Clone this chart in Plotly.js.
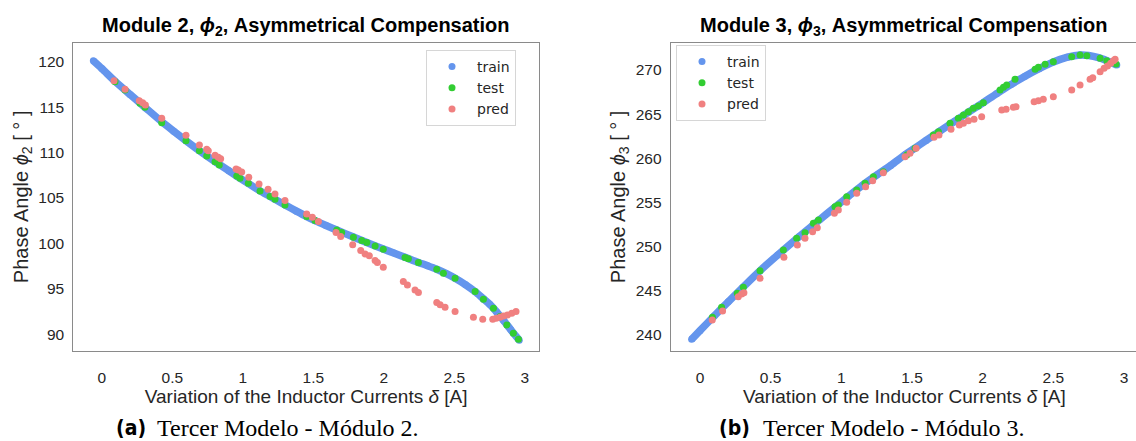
<!DOCTYPE html>
<html><head><meta charset="utf-8">
<script src="https://cdn.plot.ly/plotly-3.0.1.min.js"></script>
<style>html,body{margin:0;padding:0;overflow:hidden;background:#fff}</style>
</head><body><div id="chart" style="width:1140px;height:441px"></div>
<script>
// ---- Module 2 (left) ----
const m2TrainX = [-0.06, 0.0, 0.094, 0.2, 0.306, 0.425, 0.51, 0.597, 0.692, 0.803, 0.9, 0.957, 1.039, 1.122, 1.228, 1.299, 1.38, 1.453, 1.512, 1.59, 1.666, 1.784, 1.879, 1.996, 2.07, 2.15, 2.245, 2.31, 2.375, 2.44, 2.505, 2.58, 2.647, 2.706, 2.75, 2.8, 2.85, 2.9, 2.96];
const m2TrainY = [120.1, 119.25, 117.85, 116.4, 114.98, 113.4, 112.35, 111.31, 110.21, 109.0, 108.0, 107.4, 106.6, 105.78, 104.85, 104.24, 103.55, 102.95, 102.5, 101.97, 101.48, 100.7, 100.1, 99.38, 98.95, 98.48, 97.91, 97.55, 97.16, 96.7, 96.17, 95.45, 94.7, 93.9, 93.3, 92.45, 91.5, 90.5, 89.35];
const m2TestX = [0.094, 0.165, 0.271, 0.306, 0.425, 0.597, 0.692, 0.744, 0.803, 0.833, 0.957, 0.98, 1.039, 1.122, 1.193, 1.228, 1.299, 1.453, 1.512, 1.666, 1.701, 1.784, 1.843, 1.879, 1.938, 1.996, 2.15, 2.174, 2.245, 2.375, 2.422, 2.505, 2.647, 2.706, 2.777, 2.824, 2.872, 2.918, 2.954];
const m2TestY = [117.8, 116.89, 115.42, 114.98, 113.29, 111.31, 110.21, 109.63, 109.0, 108.64, 107.43, 107.17, 106.62, 105.78, 105.15, 104.86, 104.24, 102.95, 102.51, 101.48, 101.19, 100.68, 100.31, 100.09, 99.72, 99.36, 98.45, 98.3, 97.89, 97.16, 96.72, 96.17, 94.7, 93.86, 92.87, 91.95, 91.03, 90.12, 89.46];
const m2PredX = [0.087, 0.165, 0.266, 0.29, 0.309, 0.425, 0.597, 0.692, 0.744, 0.755, 0.803, 0.826, 0.843, 0.952, 0.968, 0.992, 1.042, 1.115, 1.179, 1.228, 1.299, 1.453, 1.493, 1.536, 1.661, 1.694, 1.779, 1.836, 1.867, 1.897, 1.938, 1.954, 1.996, 2.138, 2.167, 2.221, 2.245, 2.375, 2.399, 2.434, 2.505, 2.635, 2.701, 2.772, 2.796, 2.824, 2.848, 2.876, 2.907, 2.937];
const m2PredY = [117.91, 116.96, 115.71, 115.49, 115.24, 113.77, 111.9, 110.84, 110.36, 110.21, 109.7, 109.48, 109.33, 108.2, 108.09, 107.87, 107.28, 106.55, 105.96, 105.45, 104.71, 103.25, 102.88, 102.4, 101.19, 100.75, 99.84, 99.21, 98.84, 98.63, 98.11, 97.89, 97.38, 95.8, 95.43, 94.88, 94.59, 93.49, 93.24, 92.98, 92.5, 91.88, 91.66, 91.66, 91.77, 91.88, 92.02, 92.13, 92.32, 92.5];

// ---- Module 3 (right) ----
const m3TrainX = [-0.059, 0.0, 0.1, 0.2, 0.3, 0.425, 0.55, 0.7, 0.85, 0.944, 1.05, 1.15, 1.25, 1.35, 1.45, 1.51, 1.6, 1.7, 1.8, 1.9, 2.005, 2.1, 2.2, 2.3, 2.4, 2.5, 2.6, 2.689, 2.75, 2.82, 2.88, 2.949];
const m3TrainY = [239.51, 240.49, 242.14, 243.76, 245.34, 247.28, 249.06, 251.12, 253.1, 254.32, 255.7, 256.96, 258.1, 259.2, 260.4, 261.05, 262.03, 263.11, 264.17, 265.22, 266.31, 267.33, 268.35, 269.3, 270.15, 270.9, 271.45, 271.7, 271.65, 271.4, 271.05, 270.57];
const m3TestX = [0.088, 0.153, 0.264, 0.307, 0.425, 0.59, 0.684, 0.743, 0.802, 0.838, 0.955, 0.979, 1.038, 1.109, 1.168, 1.227, 1.297, 1.463, 1.522, 1.651, 1.687, 1.769, 1.828, 1.864, 1.899, 1.934, 1.97, 2.005, 2.123, 2.147, 2.17, 2.229, 2.371, 2.394, 2.442, 2.5, 2.63, 2.689, 2.737, 2.831, 2.878, 2.944];
const m3TestY = [242.0, 243.13, 244.72, 245.4, 247.28, 249.62, 250.94, 251.58, 252.64, 253.02, 254.53, 254.72, 255.66, 256.41, 257.17, 257.92, 258.49, 260.38, 261.13, 262.64, 263.02, 263.97, 264.53, 264.91, 265.28, 265.66, 265.92, 266.3, 267.74, 268.04, 268.3, 268.95, 270.08, 270.31, 270.65, 270.94, 271.51, 271.7, 271.62, 271.32, 271.05, 270.68];
const m3PredX = [0.087, 0.16, 0.271, 0.295, 0.311, 0.425, 0.594, 0.689, 0.743, 0.797, 0.83, 0.951, 0.979, 1.038, 1.109, 1.172, 1.222, 1.297, 1.451, 1.486, 1.529, 1.656, 1.691, 1.776, 1.835, 1.864, 1.899, 1.939, 1.993, 2.135, 2.166, 2.217, 2.236, 2.364, 2.394, 2.429, 2.5, 2.63, 2.689, 2.76, 2.779, 2.831, 2.859, 2.883, 2.906, 2.925, 2.937];
const m3PredY = [241.7, 242.72, 244.34, 244.64, 244.79, 246.42, 248.79, 250.19, 250.94, 251.69, 252.15, 253.78, 254.15, 255.02, 256.04, 256.79, 257.47, 258.37, 260.19, 260.57, 261.13, 262.38, 262.64, 263.29, 263.77, 263.97, 264.26, 264.42, 264.71, 265.47, 265.55, 265.78, 265.85, 266.41, 266.52, 266.68, 266.98, 267.74, 268.3, 268.95, 269.13, 269.81, 270.19, 270.45, 270.76, 271.05, 271.21];

const seriesNames = ['train', 'test', 'pred'];
const seriesColors = ['#6495ED', '#32CD32', '#F08080'];
const xTicks = [0, 0.5, 1, 1.5, 2, 2.5, 3];
const xTickText = ['0', '0.5', '1', '1.5', '2', '2.5', '3'];

const W = 1140, H = 441;
const SANS = 'Liberation Sans, Arial, Helvetica, sans-serif';
const MS = 7;

function traces(trX, trY, teX, teY, prX, prY, xa, ya, lg) {
  return [
    {x: trX, y: trY, xaxis: xa, yaxis: ya, type: 'scatter', mode: 'lines', showlegend: false, hoverinfo: 'skip',
     line: {color: seriesColors[0], width: 7.5, shape: 'spline', smoothing: 0.8}},
    {x: trX, y: trY, xaxis: xa, yaxis: ya, type: 'scatter', mode: 'markers', name: seriesNames[0], legend: lg,
     marker: {color: seriesColors[0], size: MS}},
    {x: teX, y: teY, xaxis: xa, yaxis: ya, type: 'scatter', mode: 'markers', name: seriesNames[1], legend: lg,
     marker: {color: seriesColors[1], size: MS}},
    {x: prX, y: prY, xaxis: xa, yaxis: ya, type: 'scatter', mode: 'markers', name: seriesNames[2], legend: lg,
     marker: {color: seriesColors[2], size: MS}}
  ];
}

const data = [].concat(
  traces(m2TrainX, m2TrainY, m2TestX, m2TestY, m2PredX, m2PredY, 'x', 'y', 'legend'),
  traces(m3TrainX, m3TrainY, m3TestX, m3TestY, m3PredX, m3PredY, 'x2', 'y2', 'legend2')
);

const yDom = [(H - 351) / H, (H - 42.7) / H];
function xAxis(dom, rng, anchor) {
  return {domain: dom, range: rng, anchor: anchor, tickmode: 'array', tickvals: xTicks, ticktext: xTickText,
    showgrid: false, zeroline: false, showline: true, mirror: true, linecolor: '#8a8a8a', linewidth: 1,
    ticks: 'outside', ticklen: 12, tickcolor: 'rgba(0,0,0,0)',
    tickfont: {family: SANS, size: 15.5, color: '#262626'},
    title: {text: 'Variation of the Inductor Currents <i>δ</i> [A]', font: {family: SANS, size: 19, color: '#262626'}, standoff: 0}};
}
function yAxis(rng, anchor, sub) {
  return {domain: yDom, range: rng, anchor: anchor, dtick: 5, tick0: 0,
    showgrid: false, zeroline: false, showline: true, mirror: true, linecolor: '#8a8a8a', linewidth: 1,
    ticks: 'outside', ticklen: 5, tickcolor: 'rgba(0,0,0,0)',
    tickfont: {family: SANS, size: 15.5, color: '#262626'},
    title: {text: 'Phase Angle <i>ϕ</i><sub>' + sub + '</sub> [ ° ]', font: {family: SANS, size: 20, color: '#262626'}, standoff: 4}};
}
function legendCfg(xpx, ypx) {
  return {x: xpx / W, y: 1 - ypx / H, xanchor: 'left', yanchor: 'top', bgcolor: '#ffffff',
    bordercolor: '#d6d6d6', borderwidth: 1, itemwidth: 40, tracegroupgap: 0,
    entrywidth: 62, entrywidthmode: 'pixels',
    font: {family: 'DejaVu Sans, sans-serif', size: 14, color: '#262626'}};
}

const annFont = {family: SANS, size: 20, color: '#000'};
const capSans = {family: 'Liberation Sans Narrow, DejaVu Sans Condensed, Liberation Sans, sans-serif', size: 21, color: '#000'};
const capSerif = {family: 'Liberation Serif, Times New Roman, serif', size: 24, color: '#000'};
const capY = 1 - 428 / H;
const layout = {
  width: W, height: H, margin: {l: 0, r: 0, t: 0, b: 0},
  paper_bgcolor: '#fff', plot_bgcolor: '#fff',
  xaxis: xAxis([73.3 / W, 539 / W], [-0.202, 3.10], 'y'),
  yaxis: yAxis([88.16, 122.09], 'x', '2'),
  xaxis2: xAxis([670.7 / W, 1138 / W], [-0.207, 3.099], 'y2'),
  yaxis2: yAxis([238.19, 273.09], 'x2', '3'),
  legend: legendCfg(426, 50),
  legend2: legendCfg(676, 45),
  annotations: [
    {xref: 'paper', yref: 'paper', x: 306 / W, y: 1 - 26 / H, xanchor: 'center', yanchor: 'middle', showarrow: false,
     text: '<b>Module 2, <i>ϕ</i><sub>2</sub>, Asymmetrical Compensation</b>', font: annFont},
    {xref: 'paper', yref: 'paper', x: 904 / W, y: 1 - 26 / H, xanchor: 'center', yanchor: 'middle', showarrow: false,
     text: '<b>Module 3, <i>ϕ</i><sub>3</sub>, Asymmetrical Compensation</b>', font: annFont},
    {xref: 'paper', yref: 'paper', x: 148 / W, y: capY, xanchor: 'right', yanchor: 'middle', showarrow: false,
     text: '<b>(a)</b>', font: capSans},
    {xref: 'paper', yref: 'paper', x: 155 / W, y: capY, xanchor: 'left', yanchor: 'middle', showarrow: false,
     text: 'Tercer Modelo - Módulo 2.', font: capSerif},
    {xref: 'paper', yref: 'paper', x: 752 / W, y: capY, xanchor: 'right', yanchor: 'middle', showarrow: false,
     text: '<b>(b)</b>', font: capSans},
    {xref: 'paper', yref: 'paper', x: 761 / W, y: capY, xanchor: 'left', yanchor: 'middle', showarrow: false,
     text: 'Tercer Modelo - Módulo 3.', font: capSerif}
  ]
};

Plotly.newPlot('chart', data, layout, {displayModeBar: false, staticPlot: true});
</script>
</body></html>
